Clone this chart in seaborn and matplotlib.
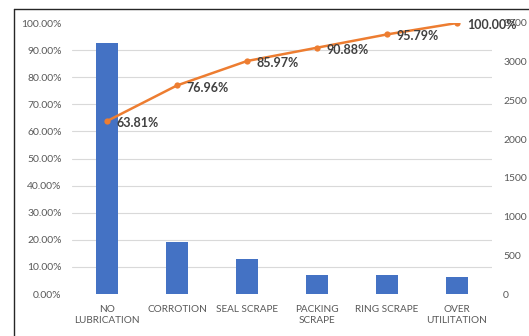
import matplotlib
matplotlib.use("Agg")
import matplotlib.pyplot as plt
from matplotlib.lines import Line2D
from matplotlib.ticker import MultipleLocator, FuncFormatter
import numpy as np
import pandas as pd
import seaborn as sns

# Failure causes, counts and cumulative share
categories = ["NO\nLUBRICATION", "CORROTION", "SEAL SCRAPE", "PACKING\nSCRAPE",
              "RING SCRAPE", "OVER\nUTILITATION"]
counts = [3244, 668, 458, 250, 250, 214]
cum_pct = [63.81, 76.96, 85.97, 90.88, 95.79, 100.00]

sns.set_theme(style="white")
plt.rcParams["font.family"] = ["Lato", "DejaVu Sans"]

W, H = 529, 336
fig = plt.figure(figsize=(W / 100, H / 100), dpi=100)
fig.patch.set_facecolor("white")

ax = fig.add_axes([72 / W, 1 - 294 / H, 420 / W, 271 / H])
ax2 = ax.twinx()
df = pd.DataFrame({"cause": categories, "count": counts})

# Bars: counts on the right-hand scale
sns.barplot(data=df, x="cause", y="count", ax=ax, color="#4472C4",
            saturation=1, width=0.31, linewidth=0)
ax.set_ylim(0, 3500)
ax.set_xlim(-0.5, 5.5)
ax.yaxis.set_major_locator(MultipleLocator(500))
ax.yaxis.set_minor_locator(MultipleLocator(350))
ax.grid(which="minor", axis="y", color="#D9D9D9", lw=0.8)
ax.set_axisbelow(True)
ax.tick_params(axis="x", length=0, pad=8, labelsize=7.2, labelcolor="#595959")
ax.set_xlabel("")
ax.set_ylabel("")
for s in ax.spines.values():
    s.set_visible(False)

# Cumulative percentage line on the left-hand scale
x = np.arange(len(categories))
sns.lineplot(x=x, y=cum_pct, ax=ax2, color="#ED7D31", lw=1.8,
             marker="o", markersize=4.5, markeredgewidth=0)
ax2.set_ylim(0, 100)
ax2.yaxis.set_major_locator(MultipleLocator(10))
ax2.yaxis.set_major_formatter(FuncFormatter(lambda v, p: f"{v:.2f}%"))
ax2.set_ylabel("")
for s in ax2.spines.values():
    s.set_visible(False)

# Counts on the right, percentages on the left
ax.yaxis.tick_right()
ax2.yaxis.tick_left()
ax.tick_params(axis="y", which="both", length=0, pad=8, labelsize=7.5, labelcolor="#595959")
ax2.tick_params(axis="y", length=0, pad=7.5, labelsize=7.5, labelcolor="#595959")

for xi, v in zip(x, cum_pct):
    ax2.annotate(f"{v:.2f}%", (xi, v), xytext=(7, -1.5), textcoords="offset points",
                 ha="left", va="center", fontsize=9, fontweight="bold",
                 color="#404040", annotation_clip=False)

# Chart frame (left and top edges)
fig.add_artist(Line2D([14 / W, 14 / W], [0, 1 - 9 / H], color="#262626", lw=1))
fig.add_artist(Line2D([14 / W, 1], [1 - 9 / H, 1 - 9 / H], color="#262626", lw=1))

fig.savefig("out.png", dpi=100, facecolor="white")
